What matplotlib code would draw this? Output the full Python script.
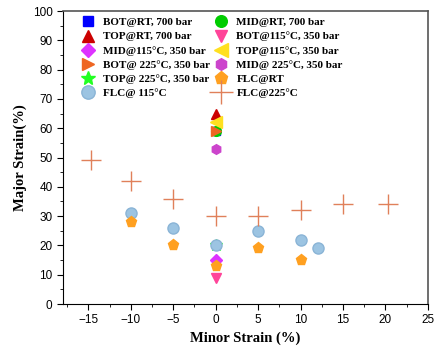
import matplotlib
matplotlib.use("Agg")
import matplotlib.pyplot as plt
from matplotlib.ticker import MultipleLocator

# FLC curves
flc225_x = [-14.7, -10, -5, 0, 5, 10, 15, 20.3]
flc225_y = [49, 42, 36, 30, 30, 32, 34, 34]
flc115_x = [-10, -5, 0, 5, 10, 12]
flc115_y = [31, 26, 20, 25, 22, 19]
flcrt_x = [-10, -5, 0, 5, 10]
flcrt_y = [28, 20, 13, 19, 15]

# single test points (minor, major)
bot_rt = (0, 59)
mid_rt = (0, 59)
top_rt = (0, 65)
bot_115 = (0, 9)
mid_115 = (0, 15)
top_115 = (0, 62)
bot_225 = (0, 59)
mid_225 = (0, 53)
top_225 = (0, 20)

fig = plt.figure(figsize=(4.34, 3.56), dpi=100)
ax = fig.add_axes([0.145, 0.146, 0.841, 0.823])

ms = 7
h = {}
h['bot_rt'], = ax.plot(*bot_rt, 's', color='#0000ff', ms=ms-1, ls='none', label='BOT@RT, 700 bar')
h['mid_rt'], = ax.plot(*mid_rt, 'o', color='#00cc00', ms=ms, ls='none', label='MID@RT, 700 bar')
h['top_225'], = ax.plot(*top_225, '*', color='#22ff22', ms=ms+2, ls='none', label='TOP@ 225°C, 350 bar')
h['flc115'], = ax.plot(flc115_x, flc115_y, 'o', color='#9cc4e2', mec='#8ab4d6', ms=ms+1, ls='none', label='FLC@ 115°C')
h['top_rt'], = ax.plot(*top_rt, '^', color='#cc0000', ms=ms, ls='none', label='TOP@RT, 700 bar')
h['top_115'], = ax.plot(*top_115, '<', color='#ffe020', ms=ms+1, ls='none', label='TOP@115°C, 350 bar')
h['bot_225'], = ax.plot(*bot_225, '>', color='#ee6622', ms=ms, ls='none', label='BOT@ 225°C, 350 bar')
h['mid_225'], = ax.plot(*mid_225, 'h', color='#cc44cc', ms=ms, ls='none', label='MID@ 225°C, 350 bar')
h['mid_115'], = ax.plot(*mid_115, 'D', color='#dd33ff', ms=ms-1, ls='none', label='MID@115°C, 350 bar')
h['flcrt'], = ax.plot(flcrt_x, flcrt_y, 'p', color='#ffa020', ms=ms+1, ls='none', label='FLC@RT')
h['bot_115'], = ax.plot(*bot_115, 'v', color='#ff4499', ms=ms, ls='none', label='BOT@115°C, 350 bar')
h['flc225'], = ax.plot(flc225_x, flc225_y, '+', color='#e0805a', ms=14, mew=1, ls='none', label='FLC@225°C')

order = ['bot_rt', 'top_rt', 'mid_115', 'bot_225', 'top_225', 'flc115',
         'mid_rt', 'bot_115', 'top_115', 'mid_225', 'flcrt', 'flc225']
ax.legend([h[k] for k in order], [h[k].get_label() for k in order], ncol=2,
          loc='upper left', frameon=False, bbox_to_anchor=(0.01, 1.02),
          prop={'family': 'Liberation Serif', 'weight': 'bold', 'size': 8.0},
          handletextpad=0.5, labelspacing=0.4, columnspacing=0.15, handlelength=1.7,
          borderaxespad=0.7, markerscale=1.2)

ax.set_xlim(-18, 25)
ax.set_ylim(0, 100)
ax.xaxis.set_major_locator(MultipleLocator(5))
ax.xaxis.set_minor_locator(MultipleLocator(2.5))
ax.yaxis.set_major_locator(MultipleLocator(10))
ax.yaxis.set_minor_locator(MultipleLocator(5))
ax.tick_params(which='both', direction='out', labelsize=8.5)
ax.tick_params(which='major', length=4)
ax.tick_params(which='minor', length=2.5)
for lab in ax.get_xticklabels() + ax.get_yticklabels():
    lab.set_family('Liberation Sans')
for s in ['top', 'right']:
    ax.spines[s].set_color('#555555')
    ax.spines[s].set_linewidth(1.2)

ax.set_xlabel('Minor Strain (%)', family='Liberation Serif', weight='bold', fontsize=10.5)
ax.set_ylabel('Major Strain(%)', family='Liberation Serif', weight='bold', fontsize=10.5)

fig.savefig('out.png', dpi=100)
